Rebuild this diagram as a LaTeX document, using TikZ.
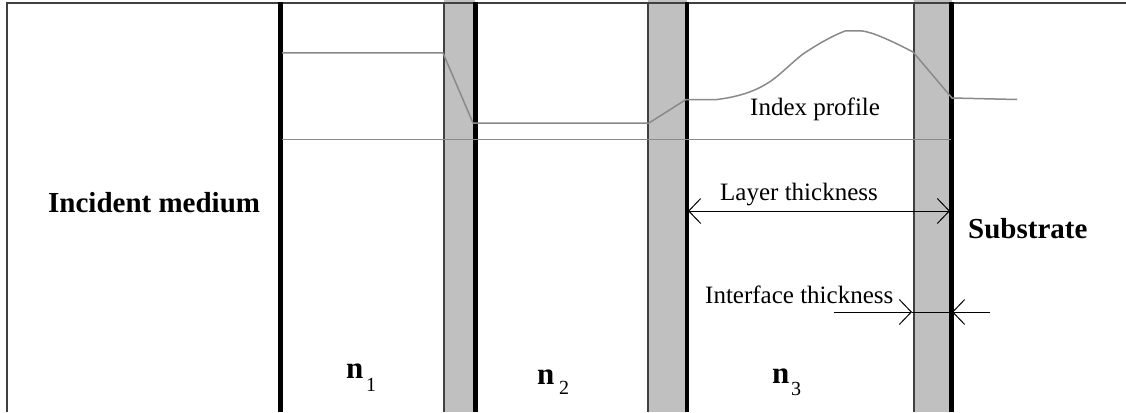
\documentclass[tikz,border=0pt]{standalone}
\usepackage{fontspec}
\setmainfont{Liberation Serif}
\usetikzlibrary{arrows.meta}
\definecolor{bandgray}{HTML}{C0C0C0}
\definecolor{edgegray}{HTML}{404040}
\definecolor{profgray}{HTML}{8A8A8A}
\tikzset{
  frame/.style={draw=edgegray, line width=2pt},
  band/.style={fill=bandgray, draw=none},
  bandedge/.style={draw=edgegray, line width=2pt},
  wall/.style={draw=black, line width=4.5pt},
  profile/.style={draw=profgray, line width=1.5pt, line join=round},
  dim/.style={draw=black, line width=1pt},
  barb/.style={-{Straight Barb[length=12pt,width=25pt,line width=1pt]}},
  lbl/.style={inner sep=0pt, anchor=base west, text=black},
  big/.style={lbl, font=\fontsize{29}{30}\selectfont\bfseries},
  mid/.style={lbl, font=\fontsize{25}{26}\selectfont},
  nn/.style={lbl, font=\fontsize{31}{32}\selectfont\bfseries},
  sub/.style={lbl, font=\fontsize{20}{21}\selectfont}
}
\begin{document}
\begin{tikzpicture}[x=1pt,y=-1pt]
\useasboundingbox (0,0) rectangle (1126,412);
\fill[white] (0,0) rectangle (1126,412);
% interface bands
\fill[band] (444,0) rectangle (475,412);
\fill[band] (648,0) rectangle (687,412);
\fill[band] (914,0) rectangle (952,412);
% outer frame
\coordinate (tl) at (7,3);
\coordinate (tr) at (1126,3);
\coordinate (bl) at (7,412);
\draw[frame] (bl) -- (tl) -- (tr);
% band edges
\draw[bandedge] (444,3) -- (444,412);
\draw[bandedge] (648,3) -- (648,412);
\draw[bandedge] (914,3) -- (914,412);
% black walls
\draw[wall] (280.5,2) -- (280.5,412);
\draw[wall] (475.5,2) -- (475.5,412);
\draw[wall] (687,2) -- (687,412);
\draw[wall] (951.5,2) -- (951.5,412);
% reference line
\draw[profile] (282,139.5) -- (951,139.5);
% index profile
\draw[profile] (282,53) -- (443,53) -- (473,123) -- (649,123) -- (686,99.5) -- (717,99.5)
  .. controls (745,96) and (762,88) .. (775,78)
  .. controls (785,70) and (795,60) .. (803,54)
  .. controls (818,44) and (832,36) .. (845,31)
  -- (862,31)
  .. controls (872,32) and (890,40) .. (913,52)
  -- (952,98) -- (1017,99.5);
% text
\node[big] (inc) at (48,212) {Incident medium};
\node[big] (sub) at (968,238) {Substrate};
\node[mid] (idx) at (750,115) {Index profile};
\node[mid] (lay) at (720,200) {Layer thickness};
\node[mid] (intf) at (705,303) {Interface thickness};
\node[nn] (n1) at (346,378) {n};
\node[sub] (s1) at (366,391) {1};
\node[nn] (n2) at (537,384) {n};
\node[sub] (s2) at (559,394) {2};
\node[nn] (n3) at (772,383) {n};
\node[sub] (s3) at (791,395) {3};
% layer thickness arrow
\coordinate (la) at (688,211);
\coordinate (lb) at (950,211);
\draw[dim, {Straight Barb[length=12pt,width=25pt,line width=1pt]}-{Straight Barb[length=12pt,width=25pt,line width=1pt]}] (la) -- (lb);
% interface thickness arrows
\coordinate (ia) at (834,312);
\coordinate (ib) at (912,312);
\coordinate (ic) at (952,312);
\coordinate (id) at (990,312);
\draw[dim] (ib) -- (ic);
\draw[dim, barb] (ia) -- (ib);
\draw[dim, barb] (id) -- (ic);
\end{tikzpicture}
\end{document}
